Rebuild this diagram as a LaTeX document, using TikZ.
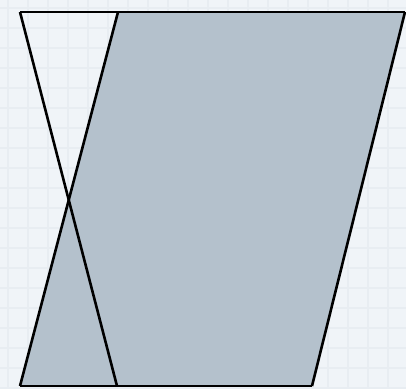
\documentclass[tikz,border=0pt]{standalone}
\begin{document}
\begin{tikzpicture}[x=1pt,y=-1pt,
  edge/.style={draw=black,line width=2.6pt,line join=miter},
  gridline/.style={draw=gridc,line width=2pt}]
\definecolor{bgc}{RGB}{240,244,248}
\definecolor{gridc}{RGB}{232,237,242}
\definecolor{fillc}{RGB}{180,193,204}
\useasboundingbox (0,0) rectangle (406,389);
\fill[bgc] (0,0) rectangle (406,389);
\foreach \i in {0,...,20} {
  \draw[gridline] (20*\i+8,0) -- (20*\i+8,389);
  \draw[gridline] (0,20*\i+8) -- (406,20*\i+8);
}
\coordinate (TL) at (20,12);
\coordinate (TM) at (118,12);
\coordinate (TR) at (405,12);
\coordinate (BL) at (20,386);
\coordinate (BM) at (117,386);
\coordinate (BR) at (312,386);
\fill[fillc] (BL) -- (TM) -- (TR) -- (BR) -- cycle;
\draw[edge] (BR) -- (TR);
\draw[edge] (TL) -- (TR);
\draw[edge] (BL) -- (BR);
\draw[edge] (BL) -- (TM);
\draw[edge] (TL) -- (BM);
\end{tikzpicture}
\end{document}
